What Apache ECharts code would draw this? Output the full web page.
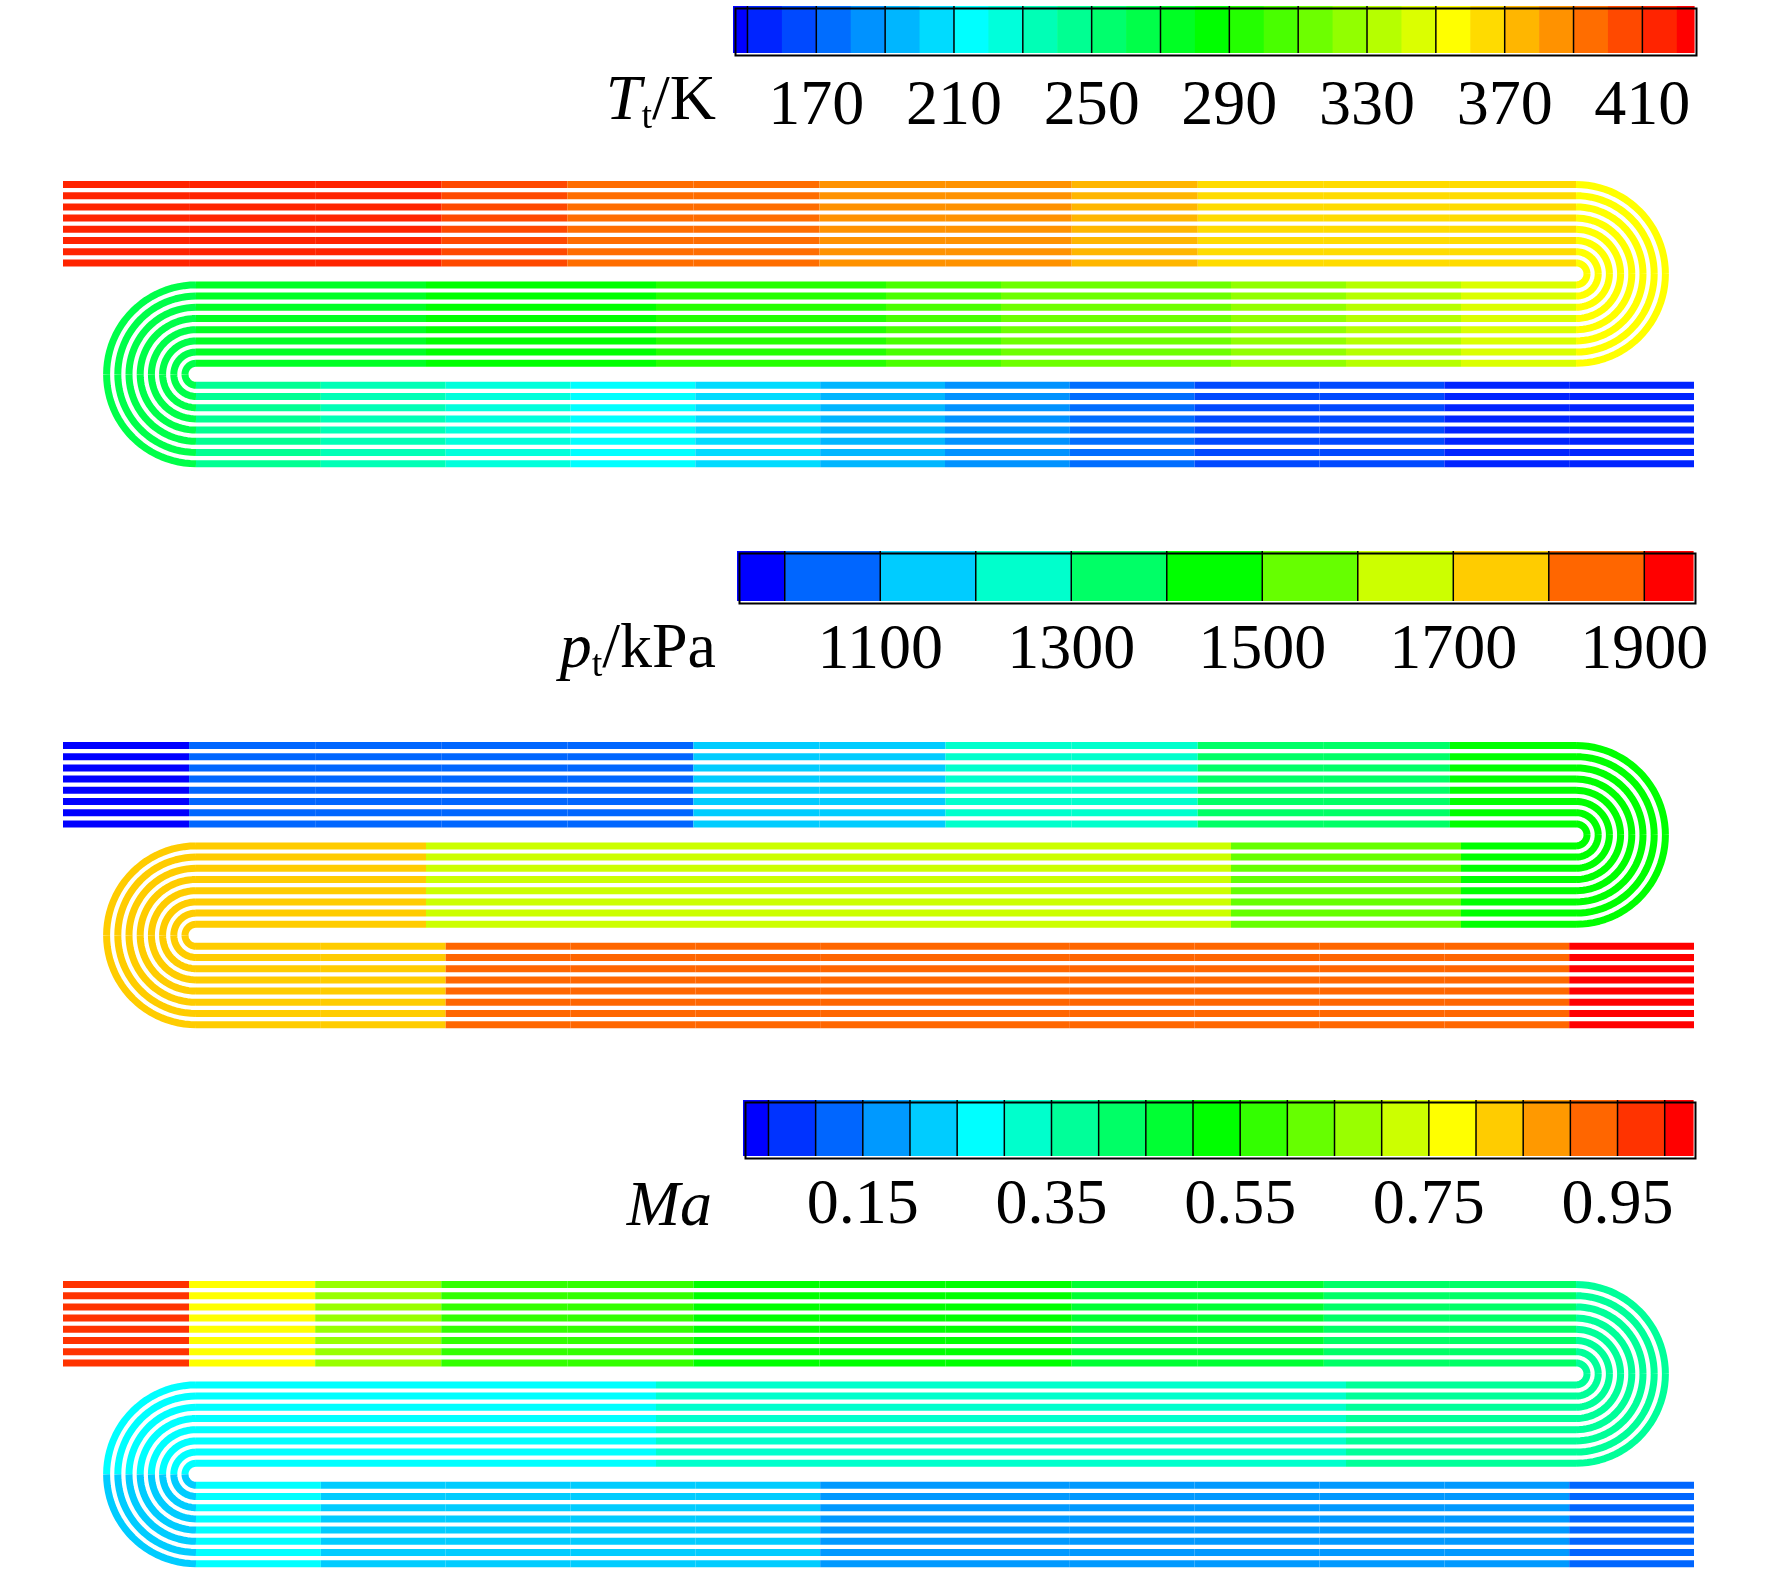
<!DOCTYPE html>
<html><head><meta charset="utf-8">
<script src="https://cdn.jsdelivr.net/npm/echarts@6/dist/echarts.min.js"></script>
<style>html,body{margin:0;padding:0;background:#fff}#c{width:1772px;height:1572px}</style>
</head><body><div id="c"></div>
<script>
// ---- colour-bar data ----
const T_breaks = [145.8,150,160,170,180,190,200,210,220,230,240,250,260,270,280,290,300,310,320,330,340,350,360,370,380,390,400,410,420,425];
const T_lines = [150,170,190,210,230,250,270,290,310,330,350,370,390,410];
const T_ticks = [170,210,250,290,330,370,410];
const P_breaks = [950,1000,1100,1200,1300,1400,1500,1600,1700,1800,1900,1951];
const P_lines = [1000,1100,1200,1300,1400,1500,1600,1700,1800,1900];
const P_ticks = [1100,1300,1500,1700,1900];
const M_breaks = [0.023,0.05,0.1,0.15,0.2,0.25,0.3,0.35,0.4,0.45,0.5,0.55,0.6,0.65,0.7,0.75,0.8,0.85,0.9,0.95,1.0,1.03];
const M_lines = [0.05,0.1,0.15,0.2,0.25,0.3,0.35,0.4,0.45,0.5,0.55,0.6,0.65,0.7,0.75,0.8,0.85,0.9,0.95,1.0];
const M_ticks = [0.15,0.35,0.55,0.75,0.95];

// ---- field values along the tube path (top leg, right bend, middle leg, left bend, bottom leg) ----
const T_top    = [419,416,411,405,399,393,387,381,375,369,364,360];
const T_rbend  = [357,355];
const T_mid    = [340,333,326,318,311,304,297,291,285,280,275,271];
const T_lbend  = [266,260];
const T_bottom = [244,234,226,216,206,196,186,177,169,163,158,155];

const P_top    = [985,1005,1030,1050,1080,1110,1150,1200,1260,1320,1380,1430];
const P_rbend  = [1450,1460];
const P_mid    = [1470,1520,1580,1610,1630,1645,1655,1665,1675,1685,1700,1715];
const P_lbend  = [1725,1735];
const P_bottom = [1745,1770,1810,1830,1840,1848,1855,1862,1870,1880,1895,1910];

const M_top    = [0.97,0.78,0.66,0.58,0.55,0.53,0.52,0.5,0.48,0.46,0.43,0.41];
const M_rbend  = [0.39,0.38];
const M_mid    = [0.37,0.35,0.34,0.33,0.32,0.31,0.3,0.3,0.29,0.28,0.27,0.26];
const M_lbend  = [0.25,0.24];
const M_bottom = [0.25,0.24,0.22,0.21,0.2,0.19,0.18,0.17,0.16,0.16,0.15,0.14];

const panels = [
  {breaks:T_breaks, legs:[T_top,T_rbend,T_mid,T_lbend,T_bottom]},
  {breaks:P_breaks, legs:[P_top,P_rbend,P_mid,P_lbend,P_bottom]},
  {breaks:M_breaks, legs:[M_top,M_rbend,M_mid,M_lbend,M_bottom]}
];

// ---- layout ----
const Y0 = [184.5, 745.5, 1284.5];
const PITCH = 11.2, RIN = 11, NT = 8, LW = 7;
const X_START = 63, X_RB = 1576, X_LB = 196, X_END = 1694;

function bandColor(v, breaks){
  const n = breaks.length - 1;
  let k = 0;
  for (let i = 0; i < n; i++) if (v >= breaks[i]) k = i;
  const h = 240 * (1 - k / (n - 1));
  return 'hsl(' + h + ',100%,50%)';
}

function legPoints(p, i, leg, t0, t1){
  const y0 = Y0[p];
  const cyR = y0 + (NT-1)*PITCH + RIN;
  const rR = RIN + (NT-1-i)*PITCH;
  const cyL = cyR + RIN + (NT-1)*PITCH + RIN;
  const rL = RIN + i*PITCH;
  const pts = [];
  if (leg === 0){ const y=y0+i*PITCH; pts.push([X_START+(X_RB-X_START)*t0,y],[X_START+(X_RB-X_START)*t1,y]); }
  else if (leg === 2){ const y=cyR+rR; pts.push([X_RB+(X_LB-X_RB)*t0,y],[X_RB+(X_LB-X_RB)*t1,y]); }
  else if (leg === 4){ const y=cyL+rL; pts.push([X_LB+(X_END-X_LB)*t0,y],[X_LB+(X_END-X_LB)*t1,y]); }
  else if (leg === 1){
    const n=24; for(let j=0;j<=n;j++){const th=-Math.PI/2+Math.PI*(t0+(t1-t0)*j/n); pts.push([X_RB+rR*Math.cos(th), cyR+rR*Math.sin(th)]);}
  } else {
    const n=24; for(let j=0;j<=n;j++){const th=1.5*Math.PI-Math.PI*(t0+(t1-t0)*j/n); pts.push([X_LB+rL*Math.cos(th), cyL+rL*Math.sin(th)]);}
  }
  return pts;
}

const tubeData = [];
panels.forEach((pn, p) => {
  for (let i = 0; i < NT; i++) {
    pn.legs.forEach((vals, leg) => {
      vals.forEach((v, k) => tubeData.push([p, i, leg, k, vals.length, v]));
    });
  }
});

function barData(breaks){ const d=[]; for(let k=0;k<breaks.length-1;k++) d.push([breaks[k],breaks[k+1],k]); return d; }

const serif = '"Liberation Serif","Times New Roman",serif';
const bars = [
  {left:733, width:961, top:6, height:47, breaks:T_breaks, lines:T_lines, ticks:T_ticks, fmt:v=>String(v)},
  {left:737, width:956, top:551, height:50, breaks:P_breaks, lines:P_lines, ticks:P_ticks, fmt:v=>String(v)},
  {left:743, width:950, top:1100, height:56, breaks:M_breaks, lines:M_lines, ticks:M_ticks, fmt:v=>v.toFixed(2)}
];

const grid = [{left:0, top:0, width:1772, height:1572}];
const xAxis = [{type:'value', min:0, max:1772, show:false, gridIndex:0}];
const yAxis = [{type:'value', min:0, max:1572, inverse:true, show:false, gridIndex:0}];
const series = [{
  type:'custom', xAxisIndex:0, yAxisIndex:0, data:tubeData, silent:true, animation:false,
  renderItem:(params, api) => {
    const p=api.value(0), i=api.value(1), leg=api.value(2), k=api.value(3), n=api.value(4), v=api.value(5);
    const pts = legPoints(p, i, leg, k/n, (k+1)/n).map(q => api.coord(q));
    return {type:'polyline', shape:{points:pts}, style:{stroke:bandColor(v, panels[p].breaks), lineWidth:LW, fill:null, lineCap:'butt', lineJoin:'round'}};
  }
}];

bars.forEach((b, idx) => {
  const g = idx + 1;
  grid.push({left:b.left, top:b.top, width:b.width, height:b.height});
  xAxis.push({type:'value', gridIndex:g, min:b.breaks[0], max:b.breaks[b.breaks.length-1],
    axisLine:{show:false}, axisTick:{show:false}, splitLine:{show:false},
    axisLabel:{customValues:b.ticks, formatter:b.fmt, fontFamily:serif, fontSize:64, color:'#000', margin:idx===0?22:18, showMinLabel:true, showMaxLabel:true}});
  yAxis.push({type:'value', gridIndex:g, min:0, max:1, show:false});
  series.push({type:'custom', xAxisIndex:g, yAxisIndex:g, data:barData(b.breaks), silent:true, animation:false,
    renderItem:(params, api) => {
      const a = api.coord([api.value(0), 1]), c = api.coord([api.value(1), 0]);
      return {type:'rect', shape:{x:a[0], y:a[1], width:c[0]-a[0]+0.6, height:c[1]-a[1]}, style:{fill:bandColor((api.value(0)+api.value(1))/2, b.breaks)}};
    }});
  series.push({type:'custom', xAxisIndex:g, yAxisIndex:g, data:b.lines.map(v=>[v]), silent:true, animation:false, z:3,
    renderItem:(params, api) => {
      const a = api.coord([api.value(0), 1]), c = api.coord([api.value(0), 0]);
      return {type:'line', shape:{x1:a[0], y1:a[1], x2:c[0], y2:c[1]}, style:{stroke:'#000', lineWidth:1.5}};
    }});
});

const rich = {i:{fontFamily:serif,fontSize:64,fontStyle:'italic',fill:'#000'}, s:{fontFamily:serif,fontSize:38,fill:'#000',padding:[32,0,0,0]}, n:{fontFamily:serif,fontSize:64,fill:'#000'}};
const graphic = [
  {type:'text', right:1772-716, top:70, style:{text:'{i|T}{s|t}{n|/K}', rich}},
  {type:'text', right:1772-716, top:618, style:{text:'{i|p}{s|t}{n|/kPa}', rich}},
  {type:'text', right:1772-712, top:1176, style:{text:'Ma', fontFamily:serif, fontSize:64, fontStyle:'italic', fill:'#000'}}
];
bars.forEach(b => graphic.push({type:'rect', left:b.left, top:b.top, shape:{width:b.width, height:b.height}, style:{fill:null, stroke:'#000', lineWidth:2}, z:10}));

const chart = echarts.init(document.getElementById('c'), null, {renderer:'canvas'});
chart.setOption({backgroundColor:'#fff', animation:false, grid, xAxis, yAxis, series, graphic});
</script></body></html>
